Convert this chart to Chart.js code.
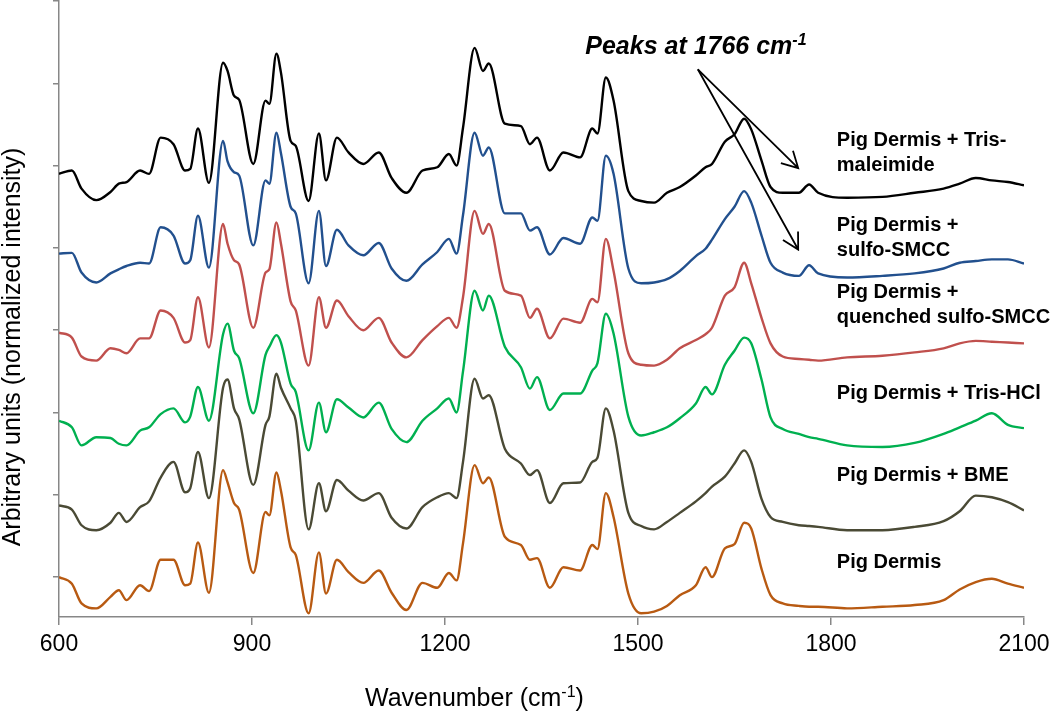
<!DOCTYPE html>
<html>
<head>
<meta charset="utf-8">
<title>Raman spectra – pig dermis</title>
<script src="https://cdn.jsdelivr.net/npm/chart.js@4.4.0/dist/chart.umd.min.js"></script>
<style>
  html, body { margin: 0; padding: 0; background: #fff; }
  #wrap { width: 1050px; height: 715px; }
</style>
</head>
<body>
<div id="wrap"><canvas id="chart" width="1050" height="715"></canvas></div>
<script>
// ── Dados (intensidade normalizada + deslocamento vertical) ──
const wavenumbers = [600, 620, 635, 658, 680, 693, 705, 726, 740, 758, 778, 796, 804, 816, 833,
  855, 862, 872, 880, 902, 921, 927, 938, 945, 960, 968, 988, 1004, 1015, 1032, 1050, 1073,
  1097, 1117, 1140, 1165, 1188, 1206, 1218, 1228, 1246, 1259, 1268, 1293, 1318, 1332, 1343,
  1363, 1384, 1410, 1429, 1437, 1450, 1462, 1485, 1505, 1525, 1545, 1565, 1590, 1605, 1615,
  1635, 1650, 1665, 1676, 1692, 1706, 1725, 1750, 1766, 1780, 1825, 1880, 1930, 1975, 2000,
  2025, 2050, 2075, 2100];

const trisMaleimide = [4.90, 4.94, 4.72, 4.58, 4.68, 4.78, 4.80, 4.94, 4.90, 5.34, 5.26, 4.94, 4.96, 5.45, 4.79,
  6.25, 6.15, 5.85, 5.80, 5.02, 5.79, 5.75, 6.36, 6.13, 5.30, 5.24, 4.57, 5.39, 4.82, 5.34, 5.16, 5.02,
  5.16, 4.85, 4.67, 4.94, 4.98, 5.14, 5.00, 5.46, 6.43, 6.15, 6.24, 5.51, 5.48, 5.26, 5.34,
  4.94, 5.16, 5.10, 5.45, 5.39, 6.07, 5.79, 4.69, 4.57, 4.55, 4.67, 4.74, 4.88, 4.98, 5.02,
  5.29, 5.38, 5.57, 5.44, 5.06, 4.74, 4.67, 4.67, 4.77, 4.67, 4.61, 4.62, 4.67, 4.72, 4.78,
  4.85, 4.82, 4.80, 4.76];

const sulfoSmcc = [3.93, 3.94, 3.70, 3.58, 3.69, 3.74, 3.78, 3.82, 3.81, 4.25, 4.15, 3.81, 3.85, 4.39, 3.76,
  5.30, 5.05, 4.92, 4.88, 4.03, 4.82, 4.78, 5.40, 5.15, 4.50, 4.42, 3.57, 4.45, 3.78, 4.22, 4.03, 3.91,
  4.06, 3.75, 3.60, 3.80, 3.95, 4.11, 3.93, 4.40, 5.40, 5.12, 5.22, 4.42, 4.42, 4.21, 4.25,
  3.92, 4.12, 4.05, 4.37, 4.33, 5.12, 4.90, 3.75, 3.57, 3.58, 3.62, 3.72, 3.90, 3.99, 4.10,
  4.35, 4.50, 4.69, 4.55, 4.15, 3.82, 3.70, 3.66, 3.79, 3.69, 3.64, 3.66, 3.69, 3.75, 3.82,
  3.84, 3.86, 3.86, 3.81];

const quenchedSmcc = [2.97, 2.91, 2.68, 2.63, 2.78, 2.76, 2.72, 2.90, 2.90, 3.24, 3.15, 2.85, 2.88, 3.40, 2.79,
  4.29, 4.05, 3.85, 3.80, 3.03, 3.70, 3.74, 4.31, 4.05, 3.35, 3.24, 2.57, 3.40, 3.03, 3.36, 3.17, 3.00,
  3.15, 2.85, 2.67, 2.88, 3.05, 3.15, 3.03, 3.40, 4.45, 4.17, 4.29, 3.48, 3.42, 3.15, 3.26,
  2.90, 3.14, 3.09, 3.38, 3.34, 4.11, 3.72, 2.72, 2.58, 2.57, 2.64, 2.78, 2.88, 2.95, 3.03,
  3.42, 3.52, 3.82, 3.57, 3.15, 2.84, 2.68, 2.65, 2.64, 2.63, 2.67, 2.69, 2.73, 2.78, 2.84,
  2.87, 2.86, 2.85, 2.84];

const trisHcl = [1.90, 1.82, 1.60, 1.70, 1.69, 1.62, 1.60, 1.78, 1.82, 1.98, 2.05, 1.88, 1.95, 2.31, 1.90,
  2.95, 3.08, 2.75, 2.66, 1.99, 2.70, 2.80, 2.94, 2.85, 2.35, 2.25, 1.54, 2.12, 1.76, 2.16, 2.06, 1.94,
  2.12, 1.80, 1.64, 1.90, 2.05, 2.17, 2.00, 2.50, 3.48, 3.24, 3.42, 2.80, 2.55, 2.29, 2.43,
  2.03, 2.23, 2.23, 2.51, 2.60, 3.20, 2.96, 1.95, 1.72, 1.76, 1.82, 1.93, 2.11, 2.31, 2.22,
  2.58, 2.75, 2.91, 2.84, 2.40, 1.94, 1.80, 1.74, 1.70, 1.68, 1.60, 1.58, 1.63, 1.74, 1.82,
  1.90, 1.99, 1.85, 1.81];

const bme = [0.87, 0.82, 0.63, 0.57, 0.66, 0.78, 0.67, 0.85, 0.92, 1.21, 1.40, 1.03, 1.08, 1.52, 0.96,
  2.30, 2.40, 2.05, 1.92, 1.12, 1.85, 1.95, 2.47, 2.30, 2.05, 1.90, 0.58, 1.14, 0.80, 1.18, 1.05, 0.93,
  1.02, 0.72, 0.59, 0.85, 0.97, 1.02, 0.96, 1.40, 2.41, 2.17, 2.21, 1.56, 1.38, 1.24, 1.30,
  0.90, 1.14, 1.15, 1.40, 1.45, 2.05, 1.78, 0.78, 0.62, 0.58, 0.67, 0.78, 0.92, 1.02, 1.10,
  1.22, 1.38, 1.54, 1.40, 0.95, 0.73, 0.67, 0.63, 0.62, 0.61, 0.57, 0.57, 0.61, 0.68, 0.80,
  0.99, 0.97, 0.91, 0.81];

const pigDermis = [0.00, -0.08, -0.32, -0.38, -0.24, -0.16, -0.28, -0.10, -0.17, 0.21, 0.21, -0.10, -0.08, 0.42, -0.19,
  1.30, 1.15, 0.90, 0.82, 0.05, 0.79, 0.75, 1.27, 1.05, 0.36, 0.27, -0.44, 0.30, -0.20, 0.21, 0.06, -0.07,
  0.08, -0.19, -0.40, -0.07, -0.13, 0.05, -0.04, 0.41, 1.36, 1.14, 1.21, 0.49, 0.39, 0.21, 0.23,
  -0.13, 0.12, 0.08, 0.39, 0.34, 1.02, 0.73, -0.20, -0.44, -0.42, -0.35, -0.22, -0.10, 0.12, 0.00,
  0.35, 0.40, 0.66, 0.59, 0.10, -0.22, -0.32, -0.35, -0.36, -0.36, -0.38, -0.36, -0.34, -0.28, -0.15,
  -0.06, -0.02, -0.08, -0.13];

const xTickValues = [600, 900, 1200, 1500, 1800, 2100];
const yTickValues = [0, 1, 2, 3, 4, 5, 6, 7];

const seriesNames  = ['Pig Dermis + Tris-maleimide', 'Pig Dermis + sulfo-SMCC',
  'Pig Dermis + quenched sulfo-SMCC', 'Pig Dermis + Tris-HCl', 'Pig Dermis + BME', 'Pig Dermis'];
const seriesValues = [trisMaleimide, sulfoSmcc, quenchedSmcc, trisHcl, bme, pigDermis];
const seriesColors = ['#000000', '#22508E', '#C0504D', '#00B050', '#4A4A35', '#B85A12'];

// rótulos à direita de cada espectro (linhas, posição em unidades dos eixos)
const seriesLabels = [
  { lines: ['Pig Dermis + Tris-', 'maleimide'], x: 1809, y: 5.30 },
  { lines: ['Pig Dermis +', 'sulfo-SMCC'], x: 1809, y: 4.27 },
  { lines: ['Pig Dermis +', 'quenched sulfo-SMCC'], x: 1809, y: 3.46 },
  { lines: ['Pig Dermis + Tris-HCl'], x: 1809, y: 2.23 },
  { lines: ['Pig Dermis + BME'], x: 1809, y: 1.24 },
  { lines: ['Pig Dermis'], x: 1809, y: 0.18 },
];

const FONT = '"Liberation Sans", Arial, Helvetica, sans-serif';

// desenha texto com partes em sobrescrito
function drawRich(ctx, parts, x, y, size, style) {
  let cx = x;
  parts.forEach(([txt, sup]) => {
    const s = sup ? Math.round(size * 0.62) : size;
    ctx.font = `${style} ${s}px ${FONT}`;
    ctx.fillText(txt, cx, sup ? y - size * 0.38 : y);
    cx += ctx.measureText(txt).width;
  });
}

function arrow(ctx, x0, y0, x1, y1) {
  const ang = Math.atan2(y1 - y0, x1 - x0);
  const len = 18, spread = 0.5;
  ctx.beginPath();
  ctx.moveTo(x0, y0);
  ctx.lineTo(x1, y1);
  ctx.moveTo(x1 - len * Math.cos(ang - spread), y1 - len * Math.sin(ang - spread));
  ctx.lineTo(x1, y1);
  ctx.lineTo(x1 - len * Math.cos(ang + spread), y1 - len * Math.sin(ang + spread));
  ctx.stroke();
}

const annotationsPlugin = {
  id: 'annotations',
  afterDraw(chart) {
    const { ctx, scales: { x, y } } = chart;
    ctx.save();
    ctx.fillStyle = '#000';
    ctx.textBaseline = 'alphabetic';

    // título do eixo Y
    ctx.save();
    ctx.translate(20, 347);
    ctx.rotate(-Math.PI / 2);
    ctx.font = `25px ${FONT}`;
    ctx.textAlign = 'center';
    ctx.fillText('Arbitrary units (normalized intensity)', 0, 0);
    ctx.restore();

    // título do eixo X
    ctx.textAlign = 'left';
    drawRich(ctx, [['Wavenumber (cm', false], ['-1', true], [')', false]], 365, 706, 25, 'normal');

    // anotação dos picos
    drawRich(ctx, [['Peaks at 1766 cm', false], ['-1', true]],
      x.getPixelForValue(1418), y.getPixelForValue(6.35), 25, 'italic bold');

    ctx.strokeStyle = '#000';
    ctx.lineWidth = 1.8;
    const sx = x.getPixelForValue(1593), sy = y.getPixelForValue(6.17);
    arrow(ctx, sx, sy, x.getPixelForValue(1749), y.getPixelForValue(4.97));
    arrow(ctx, sx, sy, x.getPixelForValue(1749), y.getPixelForValue(3.98));

    // nomes das séries
    ctx.font = `bold 20px ${FONT}`;
    ctx.textBaseline = 'middle';
    seriesLabels.forEach(lbl => {
      const px = x.getPixelForValue(lbl.x);
      const py = y.getPixelForValue(lbl.y);
      lbl.lines.forEach((line, i) => ctx.fillText(line, px, py + i * 25));
    });
    ctx.restore();
  }
};

new Chart(document.getElementById('chart'), {
  type: 'line',
  data: {
    datasets: seriesNames.map((name, i) => ({
      label: name,
      data: wavenumbers.map((w, j) => ({ x: w, y: seriesValues[i][j] })),
      borderColor: seriesColors[i],
      borderWidth: 2.4,
      pointRadius: 0,
      cubicInterpolationMode: 'monotone',
      fill: false,
    }))
  },
  options: {
    responsive: false,
    animation: false,
    devicePixelRatio: 1,
    layout: { padding: { top: 1, right: 26, bottom: 0, left: 0 } },
    plugins: {
      legend: { display: false },
      tooltip: { enabled: false },
    },
    scales: {
      x: {
        type: 'linear',
        min: 600, max: 2100,
        afterFit: s => { s.height = 98; s.paddingLeft = 0; s.paddingRight = 0; },
        afterBuildTicks: s => { s.ticks = xTickValues.map(v => ({ value: v })); },
        border: { color: '#878787', width: 1.5 },
        grid: { drawOnChartArea: false, drawTicks: true, tickLength: 8, color: '#878787', lineWidth: 1.5 },
        ticks: { color: '#000', padding: 6, maxRotation: 0, font: { family: FONT, size: 23 },
                 callback: v => String(v) },
      },
      y: {
        type: 'linear',
        min: -0.485, max: 7,
        afterFit: s => { s.width = 59; s.paddingTop = 0; s.paddingBottom = 0; },
        afterBuildTicks: s => { s.ticks = yTickValues.map(v => ({ value: v })); },
        border: { color: '#878787', width: 1.5 },
        grid: { drawOnChartArea: false, drawTicks: true, tickLength: 6, color: '#878787', lineWidth: 1.5 },
        ticks: { display: false },
      }
    }
  },
  plugins: [annotationsPlugin]
});
</script>
</body>
</html>
